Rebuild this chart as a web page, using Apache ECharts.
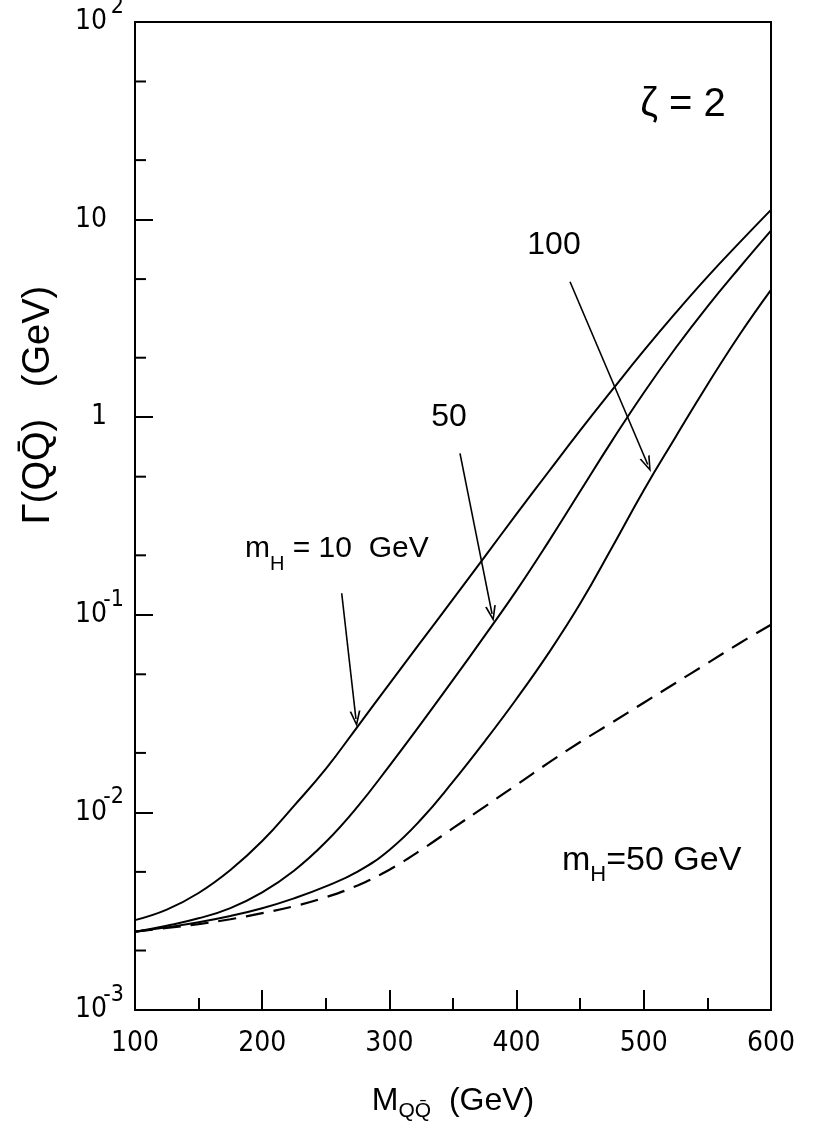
<!DOCTYPE html>
<html>
<head>
<meta charset="utf-8">
<title>Gamma(QQbar) vs M(QQbar)</title>
<script src="https://cdn.jsdelivr.net/npm/echarts@6/dist/echarts.min.js"></script>
<style>
  html, body { margin: 0; padding: 0; background: #fff; }
  #chart { width: 819px; height: 1123px; }
</style>
</head>
<body>
<div id="chart"></div>
<script>
  const masses = [100, 125, 150, 175, 200, 225, 250, 275, 300, 325, 350,
    375, 400, 425, 450, 475, 500, 525, 550, 575, 600]
  // Gamma(QQbar) in GeV, zeta = 2
  const widthMh10 = [0.00285, 0.00322, 0.00391, 0.00511, 0.00716, 0.0108, 0.0166,
    0.0272, 0.0447, 0.0733, 0.120, 0.197, 0.324, 0.528, 0.857, 1.37, 2.17, 3.37,
    5.13, 7.62, 11.2]
  const widthMh50 = [0.00249, 0.00267, 0.00291, 0.00328, 0.00394, 0.00507, 0.00708,
    0.0107, 0.0172, 0.0282, 0.0468, 0.0785, 0.133, 0.234, 0.422, 0.759, 1.33, 2.24,
    3.63, 5.69, 8.79]
  const widthMh100 = [0.00249, 0.00262, 0.00278, 0.00299, 0.00327, 0.00367, 0.00422,
    0.00501, 0.00646, 0.00923, 0.0143, 0.0229, 0.0376, 0.0638, 0.114, 0.219, 0.427,
    0.794, 1.46, 2.60, 4.41]
  // dashed curve, m_H = 50 GeV
  const widthDashed = [0.00249, 0.00260, 0.00272, 0.00288, 0.00309, 0.00335, 0.00372,
    0.00427, 0.00513, 0.00646, 0.00832, 0.0107, 0.0138, 0.0178, 0.0227, 0.0285,
    0.0359, 0.0452, 0.0569, 0.0716, 0.0891]

  // y tick labels, 10^-3 ... 10^2
  const yTickBase = ['10', '10', '10', '1', '10', '10']
  const yTickExp = ['-3', '-2', '-1', '', '', '2']
  // short ticks at 2 and 5 of every decade
  const yMinorTicks = [0.002, 0.005, 0.02, 0.05, 0.2, 0.5, 2, 5, 20, 50]

  // arrows: from label to curve, in data units
  const arrows = [
    [[262.5, 0.1285], [273.7, 0.0297]],  // m_H = 10 GeV
    [[355.5, 0.656], [380.7, 0.101]],    // 50
    [[442, 4.85], [503.1, 0.576]]        // 100
  ]

  const FONT = '"Liberation Sans", "DejaVu Sans", sans-serif'
  const NARROW = '"Liberation Sans Narrow", "DejaVu Sans Condensed", "Liberation Sans", sans-serif'
  // open arrow head, tip at the top
  const chevron = 'path://M5,0 L10,14 L8.4,14 L5,4.2 L1.6,14 L0,14 Z'

  function pairs (ys) {
    return masses.map((m, i) => [m, ys[i]])
  }

  function curve (ys, dashed) {
    return {
      type: 'line',
      data: pairs(ys),
      showSymbol: false,
      smooth: 0.45,
      silent: true,
      lineStyle: { color: '#000', width: dashed ? 2.2 : 2, type: dashed ? [18, 10] : 'solid' }
    }
  }

  let chart = echarts.init(document.getElementById('chart'))
  let mainCurve = curve(widthMh10, false)
  mainCurve.markLine = {
    silent: true,
    symbol: ['none', chevron],
    symbolSize: [11, 16],
    label: { show: false },
    lineStyle: { color: '#000', width: 1.6, type: 'solid' },
    data: arrows.map(a => [{ coord: a[0] }, { coord: a[1] }])
  }

  chart.setOption({
    animation: false,
    backgroundColor: '#fff',
    grid: {
      left: 135,
      right: 48,
      top: 22,
      bottom: 113,
      containLabel: false,
      outerBoundsMode: 'none',
      show: true,
      borderColor: '#000',
      borderWidth: 2
    },
    xAxis: {
      type: 'value',
      min: 100,
      max: 600,
      interval: 100,
      name: '{m|M}{s|QQ\u0304}{m|  (GeV)}',
      nameLocation: 'middle',
      nameGap: 71,
      nameTextStyle: {
        color: '#000',
        rich: {
          m: { fontSize: 32, fontFamily: FONT, color: '#000' },
          s: { fontSize: 21, fontFamily: FONT, color: '#000', padding: [20, 0, 0, 0] }
        }
      },
      axisLine: { lineStyle: { color: '#000', width: 2 } },
      axisTick: { inside: true, length: 20, lineStyle: { color: '#000', width: 2 } },
      minorTick: { show: true, splitNumber: 2, length: 12, lineStyle: { color: '#000', width: 2 } },
      splitLine: { show: false },
      axisLabel: { color: '#000', fontSize: 28, fontFamily: NARROW, margin: 20 }
    },
    yAxis: {
      type: 'log',
      logBase: 10,
      min: 0.001,
      max: 100,
      axisLine: { lineStyle: { color: '#000', width: 2 } },
      axisTick: { inside: true, length: 18, lineStyle: { color: '#000', width: 2 } },
      splitLine: { show: false },
      axisLabel: {
        margin: 11,
        formatter: function (v) {
          let i = Math.round(Math.log10(v)) + 3
          return '{b|' + yTickBase[i] + '}{s|' + (yTickExp[i] || ' ') + '}'
        },
        rich: {
          b: { fontSize: 28, fontFamily: NARROW, color: '#000' },
          s: { fontSize: 23, fontFamily: NARROW, color: '#000', width: 17, align: 'right', padding: [0, 0, 30, 0] }
        }
      }
    },
    graphic: [
      {
        type: 'text', x: 39, y: 405, rotation: Math.PI / 2, silent: true,
        style: { text: '\u0393(QQ\u0304)   (GeV)', fontSize: 38, fontFamily: FONT, fill: '#000', align: 'center', verticalAlign: 'middle' }
      },
      {
        type: 'text', x: 683, y: 105, silent: true,
        style: { text: '\u03b6 = 2', fontSize: 40, fontFamily: FONT, fill: '#000', align: 'center', verticalAlign: 'middle' }
      },
      {
        type: 'text', x: 554, y: 245, silent: true,
        style: { text: '100', fontSize: 32, fontFamily: FONT, fill: '#000', align: 'center', verticalAlign: 'middle' }
      },
      {
        type: 'text', x: 449, y: 417, silent: true,
        style: { text: '50', fontSize: 32, fontFamily: FONT, fill: '#000', align: 'center', verticalAlign: 'middle' }
      },
      {
        type: 'text', x: 245, y: 549, silent: true,
        style: {
          text: '{m|m}{s|H}{m| = 10  GeV}',
          fontSize: 30, fontFamily: FONT, fill: '#000', align: 'left', verticalAlign: 'middle',
          rich: {
            m: { fontSize: 30, fontFamily: FONT, fill: '#000' },
            s: { fontSize: 20, fontFamily: FONT, fill: '#000', padding: [30, 0, 0, 0] }
          }
        }
      },
      {
        type: 'text', x: 562, y: 861, silent: true,
        style: {
          text: '{m|m}{s|H}{m|=50 GeV}',
          fontSize: 34, fontFamily: FONT, fill: '#000', align: 'left', verticalAlign: 'middle',
          rich: {
            m: { fontSize: 34, fontFamily: FONT, fill: '#000' },
            s: { fontSize: 22, fontFamily: FONT, fill: '#000', padding: [27, 0, 0, 0] }
          }
        }
      }
    ],
    series: [
      mainCurve,
      curve(widthMh50, false),
      curve(widthMh100, false),
      curve(widthDashed, true),
      {
        type: 'custom',
        silent: true,
        clip: false,
        data: yMinorTicks.map(v => [100, v]),
        renderItem: function (params, api) {
          let p = api.coord([api.value(0), api.value(1)])
          return {
            type: 'line',
            shape: { x1: p[0], y1: p[1], x2: p[0] + 11, y2: p[1] },
            style: { stroke: '#000', lineWidth: 2 }
          }
        }
      }
    ]
  })
</script>
</body>
</html>
